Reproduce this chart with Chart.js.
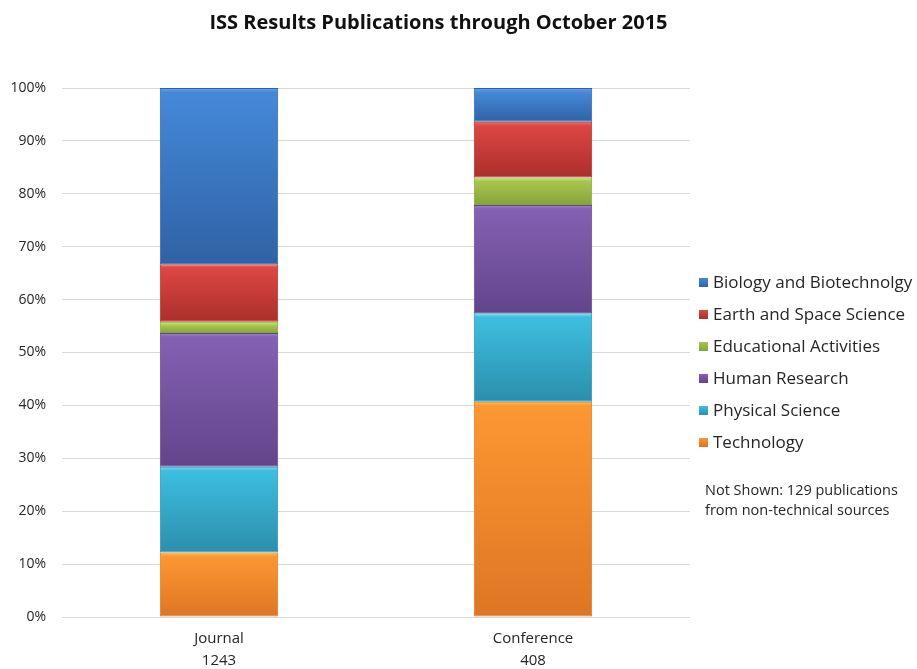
<!DOCTYPE html>
<html>
<head>
<meta charset="utf-8">
<script src="https://cdn.jsdelivr.net/npm/chart.js@4.4.1/dist/chart.umd.min.js"></script>
<style>
  html, body { margin: 0; padding: 0; background: #fff; }
  #wrap { position: relative; width: 917px; height: 669px; font-family: "Open Sans", sans-serif; }
  #chart { position: absolute; left: 0; top: 0; }
  #title { position: absolute; left: 0; top: 8px; width: 877px; text-align: center;
           font-weight: bold; font-size: 20px; color: #111; }
  #legend { position: absolute; left: 699px; top: 270px; }
  .item { position: absolute; left: 0; height: 26px; line-height: 26px; white-space: nowrap;
          font-size: 17px; color: #262626; }
  .box { position: absolute; left: 0; top: 9px; width: 9px; height: 9px; }
  .item span { position: absolute; left: 14px; top: 0; }
  #note { position: absolute; left: 705px; top: 480px; font-size: 14.5px; line-height: 20px; color: #262626; }
</style>
</head>
<body>
<div id="wrap">
  <canvas id="chart" width="917" height="669"></canvas>
  <div id="title">ISS Results Publications through October 2015</div>
  <div id="legend"></div>
  <div id="note">Not Shown: 129 publications<br>from non-technical sources</div>
</div>
<script>
// Data (percent of publications per category, stacked bottom to top)
const categories = [['Journal', '1243'], ['Conference', '408']];
const seriesNames = ['Technology', 'Physical Science', 'Human Research',
                     'Educational Activities', 'Earth and Space Science', 'Biology and Biotechnolgy'];
const technology = [12.2, 40.7];
const physicalScience = [16.2, 16.7];
const humanResearch = [25.3, 20.5];
const educational = [2.1, 5.2];
const earthSpace = [10.9, 10.5];
const biology = [33.3, 6.4];
const yTicks = [0, 10, 20, 30, 40, 50, 60, 70, 80, 90, 100];

// Colours: highlight, top, bottom
const palette = [
    { hi: '#FFC24A', top: '#FB9832', bottom: '#DD7624', key: '#F28D2D' },
    { hi: '#6FDDF6', top: '#3DBEE0', bottom: '#2C8EAC', key: '#35AFCF' },
    { hi: '#A685D4', top: '#8461B3', bottom: '#62448B', key: '#7553A2' },
    { hi: '#D2EC72', top: '#A6C64E', bottom: '#85A43A', key: '#98B843' },
    { hi: '#F2716C', top: '#DE4642', bottom: '#AA2F2C', key: '#C83B37' },
    { hi: '#6CA8EC', top: '#4589D9', bottom: '#2F62A4', key: '#3A74BE' }
];
const seriesValues = [technology, physicalScience, humanResearch, educational, earthSpace, biology];

// Gradient for one stacked segment, built from the y scale
function segmentFill(ctx) {
    const colors = palette[ctx.datasetIndex];
    const chart = ctx.chart;
    if (ctx.type !== 'data' || !chart.chartArea || !chart.scales.y) return colors.key;
    const y = chart.scales.y;
    let base = 0;
    for (let d = 0; d < ctx.datasetIndex; d++) base += seriesValues[d][ctx.dataIndex];
    const top = base + seriesValues[ctx.datasetIndex][ctx.dataIndex];
    const y0 = y.getPixelForValue(top);
    const y1 = y.getPixelForValue(base);
    if (!isFinite(y0) || !isFinite(y1) || y1 - y0 < 1) return colors.key;
    const g = chart.ctx.createLinearGradient(0, y0, 0, y1);
    const edge = Math.min(0.5, 4 / (y1 - y0));
    g.addColorStop(0, colors.hi);
    g.addColorStop(edge, colors.top);
    g.addColorStop(1, colors.bottom);
    return g;
}

const datasets = seriesNames.map((name, i) => ({
    label: name,
    data: seriesValues[i],
    backgroundColor: segmentFill,
    borderColor: palette[i].bottom,
    borderWidth: 1,
    borderSkipped: false,
    barPercentage: 0.377,
    categoryPercentage: 1
}));

// HTML legend, top item = Biology
const legend = document.getElementById('legend');
for (let i = seriesNames.length - 1, row = 0; i >= 0; i--, row++) {
    const item = document.createElement('div');
    item.className = 'item';
    item.style.top = (row * 32 - 1) + 'px';
    item.innerHTML = `<div class="box" style="background:linear-gradient(${palette[i].top},${palette[i].bottom})"></div><span>${seriesNames[i]}</span>`;
    legend.appendChild(item);
}

new Chart(document.getElementById('chart'), {
    type: 'bar',
    data: { labels: categories, datasets: datasets },
    options: {
        responsive: false,
        animation: false,
        layout: { padding: { top: 88, right: 227, bottom: 0, left: 0 } },
        plugins: { legend: { display: false }, title: { display: false }, tooltip: { enabled: false } },
        scales: {
            x: {
                stacked: true,
                grid: { display: false },
                border: { display: false },
                ticks: {
                    color: '#262626',
                    padding: 3,
                    font: { family: 'Open Sans', size: 15, lineHeight: '22px' }
                },
                afterFit(scale) { scale.height = 52; }
            },
            y: {
                stacked: true,
                min: 0,
                max: 100,
                afterBuildTicks(scale) { scale.ticks = yTicks.map(v => ({ value: v })); },
                grid: { color: '#D9D9D9', lineWidth: 1, drawTicks: false },
                border: { display: false },
                ticks: {
                    color: '#262626',
                    padding: 16,
                    font: { family: 'Open Sans', size: 14 },
                    callback: v => v + '%'
                },
                afterFit(scale) { scale.width = 62; }
            }
        }
    }
});
</script>
</body>
</html>
